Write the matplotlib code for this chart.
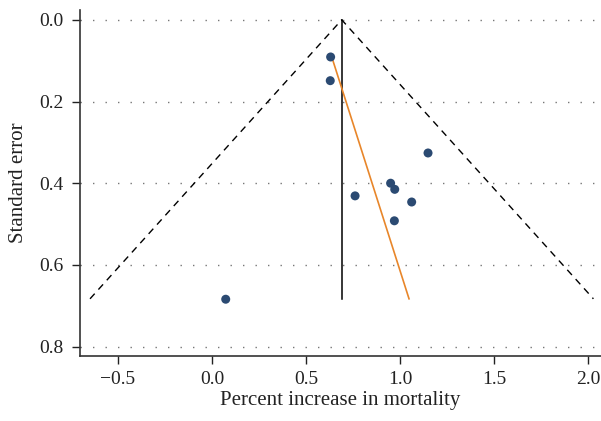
import numpy as np
import matplotlib.pyplot as plt

# ----------------------------
# Data
# ----------------------------
effect = [0.631, 0.629, 1.149, 0.950, 0.972, 0.761, 1.062, 0.970, 0.073]
std_err = [0.091, 0.149, 0.326, 0.400, 0.415, 0.431, 0.446, 0.492, 0.684]

pooled = 0.69
max_se = 0.683
egger_x = [0.637, 1.048]
egger_se = [0.091, 0.683]

y_ticks = [0.0, 0.2, 0.4, 0.6, 0.8]
x_ticks = [-0.5, 0.0, 0.5, 1.0, 1.5, 2.0]

plt.rcParams["font.family"] = ["Liberation Serif", "DejaVu Serif"]

fig = plt.figure(figsize=(6.01, 4.21), dpi=100)
ax = fig.add_axes([80 / 601, (421 - 355.6) / 421, 1 - 80 / 601, (355.6 - 10) / 421])

# dotted horizontal grid
for yv in y_ticks:
    ax.axhline(yv, color="#777777", linestyle=(0, (1, 8)), linewidth=1.0, zorder=0)

# funnel (pseudo 95% limits)
ax.plot([pooled - 1.96 * max_se, pooled, pooled + 1.96 * max_se],
        [max_se, 0, max_se], color="black", linestyle=(0, (5, 4)), linewidth=1.0)

# pooled estimate
ax.plot([pooled, pooled], [0, max_se], color="black", linewidth=1.1)

# Egger regression line
ax.plot(egger_x, egger_se, color="#e8862a", linewidth=1.2)

ax.scatter(effect, std_err, s=42, color="#2b4a72", edgecolors="none", zorder=3)

ax.set_xlim(-0.702, 2.069)
ax.set_ylim(0.822, -0.024)
ax.set_xticks(x_ticks)
ax.set_xticklabels(["\u22120.5", "0.0", "0.5", "1.0", "1.5", "2.0"])
ax.set_yticks(y_ticks)
ax.set_yticklabels(["0.0", "0.2", "0.4", "0.6", "0.8"])
ax.tick_params(direction="out", length=6, width=1.0, labelsize=14, colors="#222222")
ax.tick_params(axis="x", pad=5)
ax.tick_params(axis="y", pad=6)

for side in ["top", "right"]:
    ax.spines[side].set_visible(False)
for side in ["left", "bottom"]:
    ax.spines[side].set_linewidth(1.2)
    ax.spines[side].set_color("#333333")

ax.set_xlabel("Percent increase in mortality", fontsize=15, labelpad=2, color="#222222")
ax.set_ylabel("Standard error", fontsize=15, labelpad=8, color="#222222")

fig.savefig("out.png", dpi=100)
